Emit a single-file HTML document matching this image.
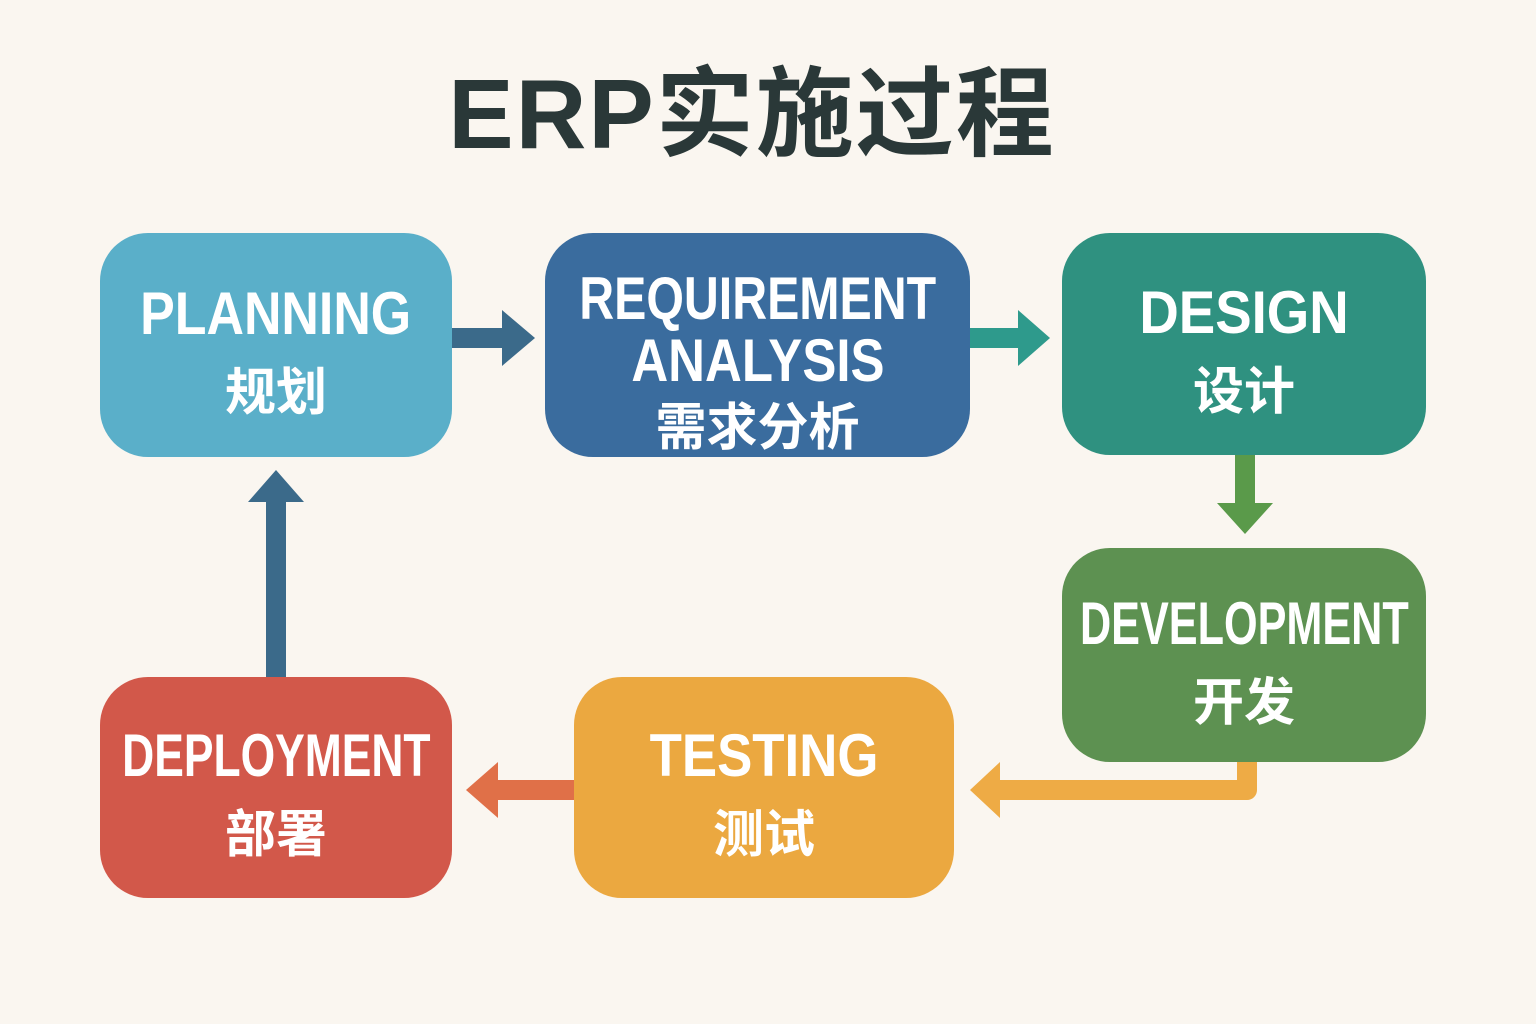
<!DOCTYPE html>
<html><head><meta charset="utf-8"><style>
html,body{margin:0;padding:0}
body{width:1536px;height:1024px;background:#faf6f0;position:relative;overflow:hidden;font-family:"Liberation Sans","Noto Sans CJK SC",sans-serif}
.title{position:absolute;left:-16px;width:1536px;top:54px;text-align:center;font-size:98px;font-weight:bold;color:#2a3838;letter-spacing:2px;line-height:120px}
.box{position:absolute;border-radius:48px;color:#fff;display:flex;flex-direction:column;align-items:center;justify-content:center;text-align:center;font-weight:bold}
.en{font-size:60px;line-height:62px;display:inline-block;white-space:nowrap;font-family:"Liberation Sans",sans-serif}
.zh{font-size:51px;line-height:66px;margin-top:10px;font-family:"Noto Sans CJK SC",sans-serif;font-weight:bold}
svg{position:absolute;left:0;top:0}
</style></head><body>
<div class="title">ERP实施过程</div>
<svg width="1536" height="1024">
 <rect x="452" y="328" width="56" height="20" fill="#3b6a8a"/><polygon points="502,310 535,338 502,366" fill="#3b6a8a"/>
 <rect x="968" y="328" width="54" height="20" fill="#2e9a8c"/><polygon points="1018,310 1050,338 1018,366" fill="#2e9a8c"/>
 <rect x="1235" y="455" width="20" height="52" fill="#5a9a4a"/><polygon points="1217,503 1245,534 1273,503" fill="#5a9a4a"/>
 <path d="M1247 760 V790 H995" stroke="#eeab45" stroke-width="20" fill="none" stroke-linejoin="round"/><polygon points="1000,762 970,790 1000,818" fill="#eeab45"/>
 <rect x="496" y="780" width="80" height="20" fill="#e07048"/><polygon points="498,762 466,790 498,818" fill="#e07048"/>
 <rect x="266" y="498" width="20" height="180" fill="#3b6a8a"/><polygon points="248,502 276,470 304,502" fill="#3b6a8a"/>
</svg>
<div class="box" style="left:100px;top:233px;width:352px;height:224px;background:#5aafc9;padding-top:14px;box-sizing:border-box"><span class="en" style="transform:scaleX(.865)">PLANNING</span><span class="zh">规划</span></div>
<div class="box" style="left:545px;top:233px;width:425px;height:224px;background:#3a6c9e;padding-top:32px;box-sizing:border-box"><span class="en" style="transform:scaleX(.805)">REQUIREMENT</span><span class="en" style="transform:scaleX(.85)">ANALYSIS</span><span class="zh" style="line-height:62px;margin-top:0">需求分析</span></div>
<div class="box" style="left:1062px;top:233px;width:364px;height:222px;background:#2f9180;padding-top:14px;box-sizing:border-box"><span class="en" style="transform:scaleX(.91)">DESIGN</span><span class="zh">设计</span></div>
<div class="box" style="left:1062px;top:548px;width:364px;height:214px;background:#5d9151;padding-top:14px;box-sizing:border-box"><span class="en" style="transform:scaleX(.72)">DEVELOPMENT</span><span class="zh">开发</span></div>
<div class="box" style="left:574px;top:677px;width:380px;height:221px;background:#eba840;padding-top:12px;box-sizing:border-box"><span class="en" style="transform:scaleX(.88)">TESTING</span><span class="zh">测试</span></div>
<div class="box" style="left:100px;top:677px;width:352px;height:221px;background:#d2584a;padding-top:12px;box-sizing:border-box"><span class="en" style="transform:scaleX(.74)">DEPLOYMENT</span><span class="zh">部署</span></div>
</body></html>
